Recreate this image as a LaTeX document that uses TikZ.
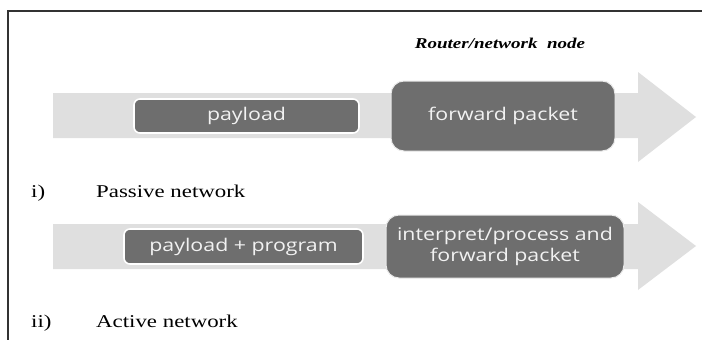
\documentclass[tikz,border=0pt]{standalone}
\usepackage{fontspec}
\setmainfont[FakeStretch=1.27]{Liberation Serif}
\newfontfamily\boxfont[FakeStretch=1.22]{Open Sans}
\definecolor{bandgray}{HTML}{DFDFDF}
\definecolor{boxgray}{HTML}{6E6E6E}
\definecolor{boxtext}{HTML}{F2F2F2}
\begin{document}
\begin{tikzpicture}[x=1pt,y=-1pt,
  smallbox/.style={rectangle,rounded corners=6pt,fill=boxgray,draw=white,line width=1.6pt,
    text=boxtext,font=\boxfont\fontsize{17.5}{22}\selectfont,inner sep=0pt},
  bigbox/.style={rectangle,rounded corners=13pt,fill=boxgray,draw=white!85!boxgray,line width=1pt,
    text=boxtext,font=\boxfont\fontsize{17.5}{21}\selectfont,inner sep=0pt,align=center},
  label/.style={anchor=base west,inner sep=0pt,font=\fontsize{18}{20}\selectfont}]
\useasboundingbox (0,0) rectangle (702,340);
% frame
\draw[line width=1.4pt,black!80] (8,340) -- (8,11) -- (702,11);
% title
\node[anchor=base,inner sep=0pt,font=\bfseries\itshape\fontsize{15}{17}\selectfont] (title) at (500,48) {Router/network\ \ node};
% arrow 1
\fill[bandgray] (53,93) -- (638,93) -- (638,72) -- (696,117) -- (638,162) -- (638,138) -- (53,138) -- cycle;
\node[smallbox,minimum width=225pt,minimum height=34pt] (payload) at (246.5,116) {payload};
\node[bigbox,minimum width=224pt,minimum height=70pt] (fwd) at (503,116) {forward packet};
% labels 1
\node[label] (i) at (31,197) {i)};
\node[label] (passive) at (96,197) {Passive network};
% arrow 2
\fill[bandgray] (53,224) -- (638,224) -- (638,202) -- (696,246) -- (638,290) -- (638,269) -- (53,269) -- cycle;
\node[smallbox,minimum width=239pt,minimum height=35pt] (payprog) at (243.5,246.5) {payload + program};
\node[bigbox,minimum width=238pt,minimum height=63pt] (interp) at (505,246.5) {interpret/process and\\forward packet};
% labels 2
\node[label] (ii) at (31,327) {ii)};
\node[label] (active) at (96,327) {Active network};
\end{tikzpicture}
\end{document}
